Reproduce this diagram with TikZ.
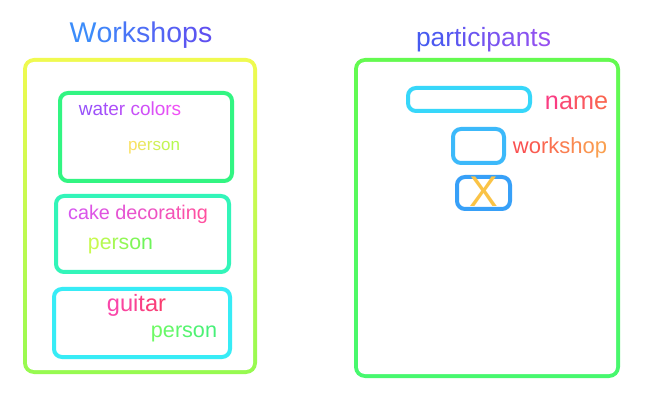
\documentclass[tikz,border=0pt]{standalone}
\usepackage{fontspec}
\setmainfont{Liberation Sans}
\ExplSyntaxOn
\int_new:N \l_gt_n_int
\int_new:N \l_gt_i_int
\NewDocumentCommand\gradtext{mmm}
 {
  \int_set:Nn \l_gt_n_int { \tl_count:n {#3} }
  \int_zero:N \l_gt_i_int
  \tl_map_inline:nn {#3}
   {
    \int_compare:nNnTF { \l_gt_n_int } > { 1 }
     { \use:e { \exp_not:N \color { #2 ! \int_eval:n { 100 * \l_gt_i_int / ( \l_gt_n_int - 1 ) } ! #1 } } }
     { \color{#1} }
    ##1
    \int_incr:N \l_gt_i_int
   }
 }
\ExplSyntaxOff
\definecolor{wsA}{RGB}{60,140,250}\definecolor{wsB}{RGB}{95,80,240}
\definecolor{paA}{RGB}{70,90,240}\definecolor{paB}{RGB}{150,80,240}
\definecolor{wcA}{RGB}{150,80,250}\definecolor{wcB}{RGB}{240,80,245}
\definecolor{p1A}{RGB}{250,225,100}\definecolor{p1B}{RGB}{180,250,80}
\definecolor{cdA}{RGB}{215,85,240}\definecolor{cdB}{RGB}{255,80,160}
\definecolor{p2A}{RGB}{200,250,80}\definecolor{p2B}{RGB}{110,245,90}
\definecolor{guA}{RGB}{250,70,170}\definecolor{guB}{RGB}{250,60,110}
\definecolor{p3A}{RGB}{110,250,100}\definecolor{p3B}{RGB}{70,240,120}
\definecolor{naA}{RGB}{250,60,130}\definecolor{naB}{RGB}{250,100,80}
\definecolor{woA}{RGB}{250,80,80}\definecolor{woB}{RGB}{250,160,80}
\definecolor{xcol}{RGB}{250,195,70}
\definecolor{lboxT}{RGB}{240,250,80}\definecolor{lboxB}{RGB}{150,250,80}
\definecolor{rboxT}{RGB}{100,250,80}\definecolor{rboxB}{RGB}{70,248,110}
\definecolor{b1}{RGB}{50,245,130}
\definecolor{b2}{RGB}{50,245,185}
\definecolor{b3}{RGB}{55,236,246}
\definecolor{bn}{RGB}{55,215,250}
\definecolor{bw}{RGB}{60,185,250}
\definecolor{bx}{RGB}{55,160,248}
\begin{document}
\begin{tikzpicture}[x=1pt,y=-1pt,
  box/.style={draw, line width=4pt, rounded corners=8pt, inner sep=0pt, fill=none},
  area/.style={draw=none, inner sep=0pt},
  lbl/.style={inner sep=0pt, anchor=center}]
\useasboundingbox (0,0) rectangle (651,406);
% outer left box (gradient stroke)
\shade[rounded corners=11pt, top color=lboxT, bottom color=lboxB] (23,58) rectangle (257,374);
\fill[white, rounded corners=7pt] (27,62) rectangle (253,370);
\node[area, minimum width=230pt, minimum height=312pt] (workshops) at (140,216) {};
% outer right box (gradient stroke)
\shade[rounded corners=11pt, top color=rboxT, bottom color=rboxB] (354,58) rectangle (620,378);
\fill[white, rounded corners=7pt] (358,62) rectangle (616,374);
\node[area, minimum width=262pt, minimum height=316pt] (participants) at (487,218) {};
% titles
\node[lbl, font=\fontsize{28.5}{34}\selectfont] (wstitle) at (141,35) {\gradtext{wsA}{wsB}{Workshops}};
\node[lbl, font=\fontsize{26.4}{32}\selectfont] (patitle) at (483.5,40) {\gradtext{paA}{paB}{participants}};
% workshop boxes
\node[box, draw=b1, minimum width=172pt, minimum height=88pt] (wc) at (146,137) {};
\node[box, draw=b2, minimum width=173pt, minimum height=76pt] (cd) at (142.5,234) {};
\node[box, draw=b3, minimum width=176pt, minimum height=68pt] (gu) at (142,323) {};
\node[lbl, font=\fontsize{19}{23}\selectfont] (wclbl) at (130,108.5) {\gradtext{wcA}{wcB}{water~colors}};
\node[lbl, font=\fontsize{17}{20}\selectfont] (p1) at (154,147.5) {\gradtext{p1A}{p1B}{person}};
\node[lbl, font=\fontsize{19.8}{24}\selectfont] (cdlbl) at (138,214) {\gradtext{cdA}{cdB}{cake~decorating}};
\node[lbl, font=\fontsize{21.3}{26}\selectfont] (p2) at (120.5,246) {\gradtext{p2A}{p2B}{person}};
\node[lbl, font=\fontsize{23.6}{28}\selectfont] (gulbl) at (136.5,305) {\gradtext{guA}{guB}{guitar}};
\node[lbl, font=\fontsize{21.6}{26}\selectfont] (p3) at (184,334) {\gradtext{p3A}{p3B}{person}};
% participant fields
\node[box, draw=bn, minimum width=122pt, minimum height=23pt] (fname) at (469,99.5) {};
\node[box, draw=bw, minimum width=51pt, minimum height=34pt] (fws) at (478.5,146) {};
\node[box, draw=bx, minimum width=53pt, minimum height=32pt] (fx) at (483.5,193) {};
\node[lbl, font=\fontsize{25.2}{30}\selectfont] (namelbl) at (576.5,102.5) {\gradtext{naA}{naB}{name}};
\node[lbl, font=\fontsize{22}{26}\selectfont] (wslbl) at (560,147.5) {\gradtext{woA}{woB}{workshop}};
\node[lbl, font=\fontsize{43}{50}\selectfont, text=xcol] (xlbl) at (484,192) {X};
\end{tikzpicture}
\end{document}
